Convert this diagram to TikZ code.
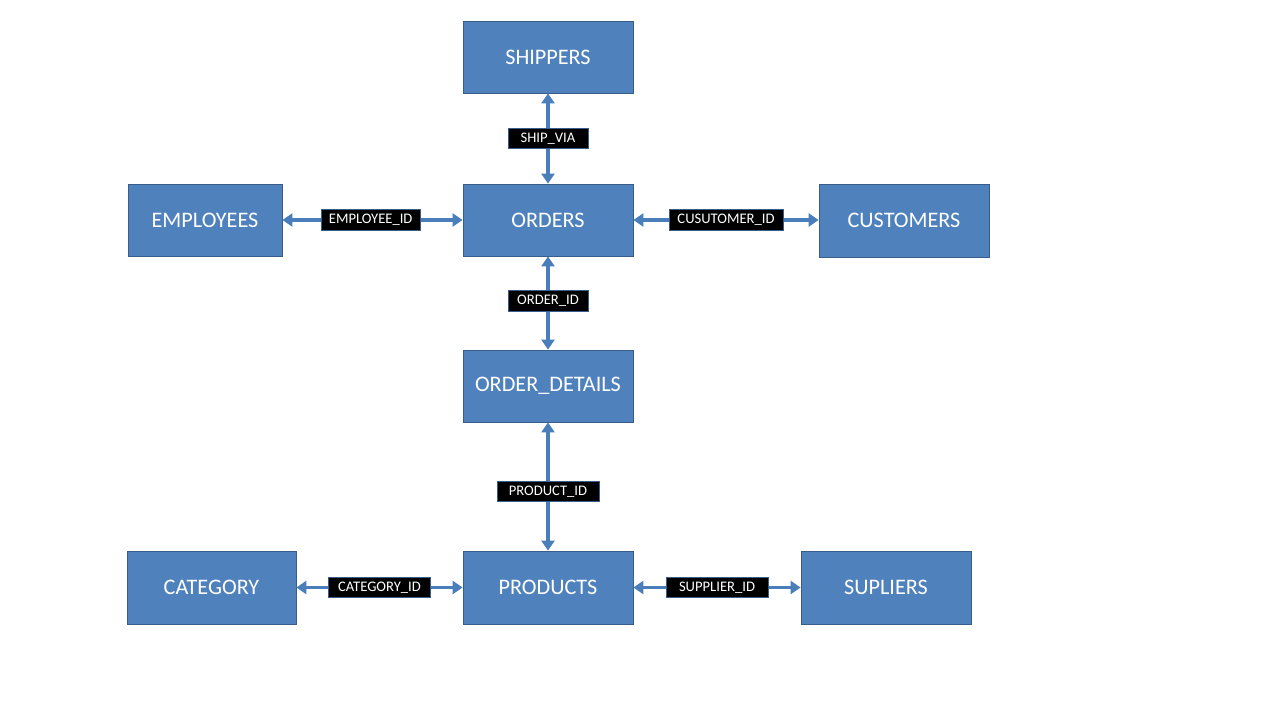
\documentclass[tikz,border=0pt]{standalone}
\usepackage{fontspec}
\setmainfont{Carlito}
\usepackage{xcolor}
\usetikzlibrary{arrows.meta}

\definecolor{tblue}{HTML}{4F81BD}
\definecolor{tedge}{HTML}{385D8A}
\definecolor{lblue}{HTML}{4A7EBB}

\tikzset{
  table/.style={draw=tedge, line width=0.8pt, fill=tblue, text=white,
    minimum width=170pt, minimum height=72pt, inner sep=0pt,
    font=\fontsize{22.2}{26}\selectfont},
  fk/.style={draw=tedge, line width=0.8pt, fill=black, text=white,
    minimum height=20.5pt, inner xsep=7pt, inner ysep=0pt,
    font=\fontsize{14.6}{16}\selectfont},
  link/.style={draw=lblue, line width=3.2pt,
    {Triangle[width=13pt,length=10pt]}-{Triangle[width=13pt,length=10pt]}}
}

\begin{document}
\begin{tikzpicture}[x=1pt,y=-1pt]
             \useasboundingbox (0,0) rectangle (1280,721);

             % tables
             \node[table] (shippers) at (548, 57) {SHIPPERS};
             \node[table, minimum width=154pt] (employees) at (205, 220) {EMPLOYEES};
             \node[table] (orders) at (548, 220) {ORDERS};
             \node[table, minimum height=73pt] (customers) at (904, 220.5) {CUSTOMERS};
             \node[table] (details) at (548, 386) {ORDER\_DETAILS};
             \node[table, minimum width=169pt, minimum height=73pt] (category) at (211.5, 587.5) {CATEGORY};
             \node[table, minimum height=73pt] (products) at (548, 587.5) {PRODUCTS};
             \node[table, minimum height=73pt] (supliers) at (886, 587.5) {SUPLIERS};

             % keys
             \draw[link] (shippers) -- (orders)
                 node[fk, pos=0.5, minimum width=80pt] {SHIP\_VIA};
             \draw[link] (employees) -- (orders)
                 node[fk, pos=0.49, minimum width=99pt] {EMPLOYEE\_ID};
             \draw[link] (orders.east) -- (orders.east -| customers.west)
                 node[fk, pos=0.5, minimum width=114pt] {CUSUTOMER\_ID};
             \draw[link] (orders) -- (details)
                 node[fk, pos=0.48, minimum width=80pt] {ORDER\_ID};
             \draw[link] (details) -- (products)
                 node[fk, pos=0.54, minimum width=102pt] {PRODUCT\_ID};
             \draw[link] (category) -- (products)
                 node[fk, pos=0.5, minimum width=102pt] {CATEGORY\_ID};
             \draw[link] (products) -- (supliers)
                 node[fk, pos=0.5, minimum width=102pt] {SUPPLIER\_ID};
\end{tikzpicture}
\end{document}
